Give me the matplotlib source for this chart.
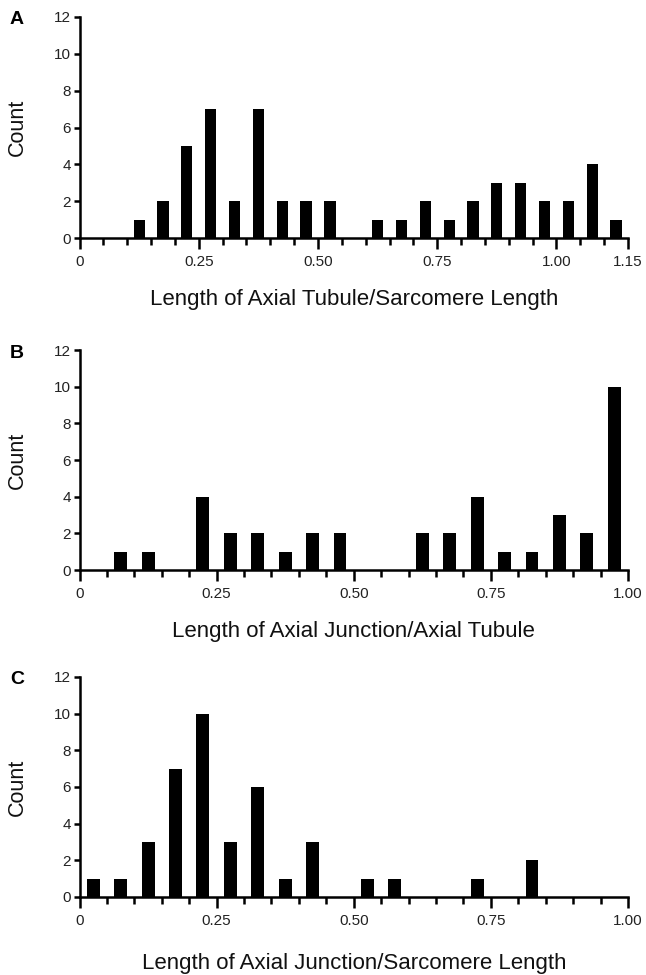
import numpy as np
import matplotlib
matplotlib.use("Agg")
import matplotlib.pyplot as plt
from matplotlib.ticker import MultipleLocator

plt.rcParams['font.family'] = ['Liberation Sans', 'DejaVu Sans']

# bin centres (bin width 0.05) and counts
centers_a = [0.125, 0.175, 0.225, 0.275, 0.325, 0.375, 0.425, 0.475, 0.525,
             0.625, 0.675, 0.725, 0.775, 0.825, 0.875, 0.925, 0.975, 1.025,
             1.075, 1.125]
counts_a = [1, 2, 5, 7, 2, 7, 2, 2, 2, 1, 1, 2, 1, 2, 3, 3, 2, 2, 4, 1]

centers_b = [0.075, 0.125, 0.225, 0.275, 0.325, 0.375, 0.425, 0.475, 0.625,
             0.675, 0.725, 0.775, 0.825, 0.875, 0.925, 0.975]
counts_b = [1, 1, 4, 2, 2, 1, 2, 2, 2, 2, 4, 1, 1, 3, 2, 10]

centers_c = [0.025, 0.075, 0.125, 0.175, 0.225, 0.275, 0.325, 0.375, 0.425,
             0.525, 0.575, 0.725, 0.825]
counts_c = [1, 1, 3, 7, 10, 3, 6, 1, 3, 1, 1, 1, 2]

xticks_a = [0, 0.25, 0.50, 0.75, 1.00, 1.15]
xlabels_a = ['0', '0.25', '0.50', '0.75', '1.00', '1.15']
xticks_bc = [0, 0.25, 0.50, 0.75, 1.00]
xlabels_bc = ['0', '0.25', '0.50', '0.75', '1.00']
yticks = [0, 2, 4, 6, 8, 10, 12]

W, H = 646, 975
AX_L, AX_R = 79.5, 628
fig = plt.figure(figsize=(W / 100, H / 100), dpi=100)


def panel(y0_px, y12_px, centers, counts, xmax, ticks, labels, letter,
          xlabel, xlabel_y):
    ax = fig.add_axes([AX_L / W, (H - y0_px) / H, (AX_R - AX_L) / W,
                       (y0_px - y12_px) / H])
    ax.bar(centers, counts, width=0.0235, color='black', linewidth=0)
    ax.set_xlim(0, xmax)
    ax.set_ylim(0, 12)
    for s in ['top', 'right']:
        ax.spines[s].set_visible(False)
    for s in ['left', 'bottom']:
        ax.spines[s].set_linewidth(1.8)
    ax.set_xticks(ticks)
    ax.set_xticklabels(labels)
    ax.xaxis.set_minor_locator(MultipleLocator(0.05))
    ax.set_yticks(yticks)
    ax.tick_params(axis='x', which='major', length=8, width=1.8, pad=4,
                   labelsize=11, labelcolor='#222222')
    ax.tick_params(axis='x', which='minor', length=5, width=1.8)
    ax.tick_params(axis='y', length=4, width=1.8, pad=2, labelsize=11,
                   labelcolor='#222222')
    ax.set_ylabel('Count', fontsize=15.5, color='#111111', va='center')
    ax.yaxis.set_label_coords((17 - AX_L) / (AX_R - AX_L), 0.5)
    fig.text(17 / W, 1 - (y12_px + 3) / H, letter, fontsize=14,
             fontweight='bold', ha='center', va='center')
    fig.text((AX_L + AX_R) / 2 / W, 1 - xlabel_y / H, xlabel, fontsize=16,
             ha='center', va='center', color='#111111')
    return ax


panel(238, 17, centers_a, counts_a, 1.15, xticks_a, xlabels_a, 'A',
      'Length of Axial Tubule/Sarcomere Length', 300)
panel(570, 350, centers_b, counts_b, 1.00, xticks_bc, xlabels_bc, 'B',
      'Length of Axial Junction/Axial Tubule', 631)
panel(897, 677, centers_c, counts_c, 1.00, xticks_bc, xlabels_bc, 'C',
      'Length of Axial Junction/Sarcomere Length', 964)

fig.savefig('out.png', dpi=100)
